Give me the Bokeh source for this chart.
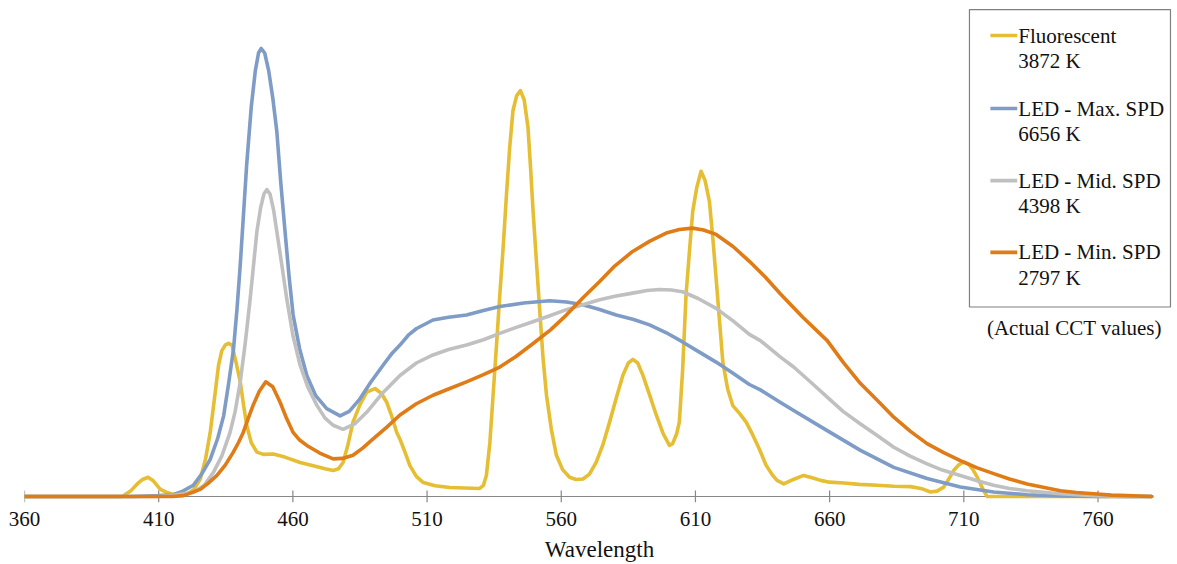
from bokeh.plotting import figure
from bokeh.models import Range1d, FixedTicker
from bokeh.core.properties import value
from bokeh.embed import file_html
from bokeh.resources import INLINE

# ---------------- data (relative spectral power, normalised to LED-Max peak) -------------
tick_values = [360, 410, 460, 510, 560, 610, 660, 710, 760]

fluor_nm = [360, 396, 397, 399.5, 402, 404, 406, 408, 410.6, 413, 415.4, 420.5, 423, 425.5, 427.5,
            429.2, 430.8, 432.3, 433.5, 434.8, 436, 437.3, 438.8, 440.4, 441.6, 442.8, 444.5, 446.6,
            449, 452.7, 457, 462.7, 468, 472, 475, 477, 478.7, 480.5, 482.4, 485, 487.5, 490.6, 493,
            494.9, 496.8, 498.7, 499.9, 501.7, 503.6, 506, 508.6, 513, 518.5, 524, 529.6, 531, 532.1,
            533.4, 534.6, 535.9, 537.1, 538.4, 539.6, 540.8, 542, 543.4, 544.8, 546.2, 547.6, 548.6,
            549.5, 550.8, 552, 553.2, 554.5, 556.3, 558.2, 560.5, 563.1, 565.5, 568.1, 570.5, 573,
            575.5, 578, 580.5, 583, 585, 586.7, 588.5, 590.4, 593, 595.4, 598, 600.3, 601.5, 603, 604,
            605.2, 606.5, 607.8, 609, 610.5, 612.1, 613.6, 615.2, 616.5, 617.7, 619, 620.2, 622, 623.9,
            626.5, 628.9, 631.3, 633.8, 636.3, 638.8, 640.4, 642.9, 646.5, 650.3, 653.5, 656.6, 660,
            665.3, 671, 677.7, 684, 690.1, 694, 697.6, 700, 702.5, 704.5, 706.2, 708, 709.9, 711.8,
            713.6, 715, 716.2, 717.5, 718.7, 780]
fluor_val = [0, 0, 0.002, 0.012, 0.028, 0.038, 0.043, 0.035, 0.016, 0.009, 0.005, 0.005, 0.015, 0.039, 0.085,
             0.143, 0.22, 0.293, 0.325, 0.338, 0.342, 0.338, 0.30, 0.256, 0.205, 0.159, 0.12, 0.099,
             0.094, 0.095, 0.088, 0.076, 0.068, 0.062, 0.058, 0.062, 0.076, 0.115, 0.166, 0.205, 0.233, 0.241, 0.23,
             0.211, 0.18, 0.143, 0.128, 0.10, 0.069, 0.045, 0.031, 0.024, 0.02, 0.019, 0.018, 0.025, 0.047,
             0.12, 0.226, 0.34, 0.45, 0.56, 0.675, 0.78, 0.861, 0.895, 0.906, 0.885, 0.824, 0.73,
             0.637, 0.52, 0.413, 0.31, 0.226, 0.15, 0.092, 0.06, 0.043, 0.038, 0.039, 0.05, 0.076,
             0.115, 0.166, 0.22, 0.271, 0.298, 0.306, 0.298, 0.271, 0.225, 0.182, 0.14, 0.114, 0.118, 0.14, 0.166,
             0.28, 0.45, 0.55, 0.637, 0.69, 0.726, 0.705, 0.659, 0.575, 0.487, 0.39, 0.30, 0.24, 0.203,
             0.185, 0.166, 0.138, 0.106, 0.07, 0.047, 0.036, 0.028, 0.038, 0.047, 0.042, 0.036, 0.032,
             0.03, 0.027, 0.025, 0.023, 0.022, 0.018, 0.01, 0.012, 0.021, 0.04, 0.058, 0.07, 0.077, 0.072,
             0.058, 0.043, 0.028, 0.012, 0, 0]

max_nm = [360, 400, 410, 415.4, 419, 422.9, 426, 429.2, 432, 434.2, 436, 437.9, 439.2, 440.4, 441.6,
          442.8, 444.5, 446, 447.2, 448.2, 449.5, 451, 452.5, 454, 455.5, 457.1, 458.6, 460.1, 462.5,
          465.2, 468.5, 472.6, 477.6, 481, 485, 489, 493.6, 497, 499.9, 503, 506.1, 512.2, 518, 524.7,
          531, 537.1, 546, 555.7, 562, 568, 574, 580.5, 587, 592.9, 599, 605.2, 611, 617.7, 624, 630.1,
          634.2, 641.7, 646.6, 659.1, 671.5, 683.9, 696.3, 708.7, 721.1, 733.6, 746, 760, 780]
max_val = [0, 0, 0.002, 0.004, 0.012, 0.025, 0.05, 0.083, 0.13, 0.18, 0.25, 0.33, 0.42, 0.518, 0.63,
           0.742, 0.87, 0.95, 0.99, 1.0, 0.99, 0.95, 0.89, 0.816, 0.70, 0.59, 0.49, 0.405, 0.33,
           0.27, 0.225, 0.196, 0.18, 0.19, 0.218, 0.255, 0.293, 0.32, 0.338, 0.36, 0.375, 0.394, 0.40, 0.405,
           0.415, 0.424, 0.432, 0.437, 0.434, 0.428, 0.418, 0.405, 0.395, 0.383, 0.366, 0.345, 0.324, 0.30, 0.275, 0.25,
           0.238, 0.21, 0.192, 0.147, 0.103, 0.065, 0.040, 0.021, 0.010, 0.004, 0.001, 0, 0]

mid_nm = [360, 410, 416, 422.9, 427, 430.4, 433.5, 436.6, 438.5, 440.4, 442.3, 444.1, 445.4, 446.6,
          448, 449.2, 450.3, 451.5, 452.8, 454, 455.8, 457.7, 460, 462.7, 465.5, 468.9, 472, 475,
          478.7, 483, 487.5, 493, 499.9, 506, 512.2, 518, 524.7, 531, 537.1, 543, 549.4, 556, 561.9,
          568, 574.3, 580, 586.6, 592, 596.6, 601, 605.2, 611, 617.7, 624, 630.1, 634.2, 641.7, 646.6,
          653, 659.1, 665, 671.5, 678, 683.9, 690, 696.3, 702, 708.7, 715, 721.1, 727, 733.6, 746,
          758.4, 770, 780]
mid_val = [0, 0, 0.003, 0.009, 0.025, 0.054, 0.09, 0.143, 0.19, 0.256, 0.345, 0.442, 0.52, 0.592,
           0.645, 0.675, 0.685, 0.675, 0.64, 0.592, 0.52, 0.442, 0.36, 0.293, 0.245, 0.204, 0.175, 0.159,
           0.15, 0.162, 0.188, 0.228, 0.27, 0.298, 0.316, 0.328, 0.338, 0.35, 0.364, 0.377, 0.39, 0.404, 0.417,
           0.428, 0.439, 0.447, 0.454, 0.46, 0.462, 0.461, 0.457, 0.442, 0.42, 0.392, 0.362, 0.348, 0.311, 0.289,
           0.255, 0.222, 0.19, 0.162, 0.135, 0.110, 0.09, 0.073, 0.059, 0.047, 0.035, 0.025, 0.018, 0.013, 0.006,
           0.002, 0, 0]

min_nm = [360, 410, 415, 419.2, 422, 425.5, 428.5, 431.7, 434.8, 437.8, 439.7, 441.5, 443.4, 445.2,
          447.5, 449.9, 452.5, 455.2, 457.6, 460.1, 462.5, 465.2, 470, 475, 478.5, 482.4, 486, 489.8,
          495, 499.9, 506, 512.2, 518, 524.7, 531, 537.1, 543, 549.4, 556, 561.9, 568, 574.3, 580,
          586.6, 593, 599.1, 604, 608.9, 613, 617.7, 624, 630.1, 636, 641.7, 650, 659.1, 665, 671.5,
          678, 683.9, 690, 696.3, 702.5, 708.7, 715, 721.1, 727, 733.6, 740, 746, 752, 758.4, 765,
          770.8, 780]
min_val = [0, 0, 0.0, 0.002, 0.008, 0.016, 0.03, 0.047, 0.07, 0.099, 0.12, 0.143, 0.175, 0.204,
           0.235, 0.256, 0.245, 0.211, 0.175, 0.143, 0.126, 0.114, 0.097, 0.084, 0.085, 0.092, 0.108, 0.128,
           0.155, 0.182, 0.207, 0.226, 0.24, 0.256, 0.272, 0.289, 0.312, 0.341, 0.372, 0.405, 0.443, 0.48, 0.515,
           0.547, 0.57, 0.588, 0.596, 0.599, 0.595, 0.585, 0.558, 0.525, 0.49, 0.452, 0.40, 0.348, 0.30, 0.252,
           0.213, 0.177, 0.146, 0.118, 0.098, 0.080, 0.064, 0.051, 0.039, 0.028, 0.020, 0.013, 0.009, 0.006, 0.003,
           0.002, 0]

series_names = ["Fluorescent", "LED - Max. SPD", "LED - Mid. SPD", "LED - Min. SPD"]
series_cct = ["3872 K", "6656 K", "4398 K", "2797 K"]
series_colors = ["#E5BE33", "#7E9CC6", "#C0C0C0", "#DF7C17"]
legend_note = "(Actual CCT values)"
x_title = "Wavelength"

# ---------------- figure ----------------
FONT = "Liberation Serif"
p = figure(width=1174, height=564, output_backend="svg", toolbar_location=None,
           x_range=Range1d(360, 788.5), y_range=Range1d(-0.0134, 1.0893),
           y_axis_location=None,
           min_border_left=24, min_border_right=0, min_border_top=8, min_border_bottom=62)
p.outline_line_color = None
p.grid.visible = False
p.background_fill_color = "white"

ax = p.xaxis[0]
ax.ticker = FixedTicker(ticks=tick_values)
ax.axis_line_color = None
ax.major_tick_line_color = None
ax.minor_tick_line_color = None
ax.major_label_text_font = FONT
ax.major_label_text_font_size = "21px"
ax.major_label_text_color = "#111111"
ax.major_label_standoff = 3
ax.axis_label = x_title
ax.axis_label_text_font = FONT
ax.axis_label_text_font_size = "23px"
ax.axis_label_text_font_style = "normal"
ax.axis_label_text_color = "#111111"
ax.axis_label_standoff = 8

axis_color = "#878787"
xmin, xmax = min(min_nm), max(min_nm)
p.segment(x0=[xmin], x1=[xmax], y0=[0], y1=[0], line_color=axis_color, line_width=1.2)
tk = 6 / 448
p.segment(x0=tick_values, x1=tick_values, y0=[-tk] * len(tick_values), y1=[tk] * len(tick_values),
          line_color=axis_color, line_width=1.2)

all_x = [fluor_nm, max_nm, mid_nm, min_nm]
all_y = [fluor_val, max_val, mid_val, min_val]
for xs, ys, c in zip(all_x, all_y, series_colors):
    p.line(xs, ys, line_color=c, line_width=3.6, line_join="round", line_cap="round")

# ---------------- legend (drawn manually) ----------------
p.quad(left=[712.1], right=[787.0], top=[1.087], bottom=[0.423], fill_color="white",
       line_color="#7F7F7F", line_width=1.2)
row_y = [1.029, 0.866, 0.705, 0.545]
row_gap = 0.057
for name, cct, c, yy in zip(series_names, series_cct, series_colors, row_y):
    p.segment(x0=[719.9], x1=[729.9], y0=[yy], y1=[yy], line_color=c, line_width=3.6)
    p.text(x=[730.3, 730.3], y=[yy, yy - row_gap], text=[name, cct], text_font=value(FONT),
           text_font_size="21px", text_align="left", text_baseline="middle", text_color="#111111")
p.text(x=[751.2], y=[0.377], text=[legend_note], text_font=value(FONT), text_font_size="21px",
       text_align="center", text_baseline="middle", text_color="#111111")

open("out.html", "w").write(file_html(p, INLINE))
